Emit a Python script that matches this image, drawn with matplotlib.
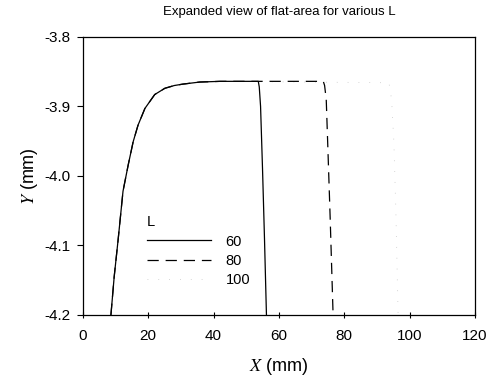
import matplotlib
matplotlib.use("Agg")
import matplotlib.pyplot as plt

plt.rcParams['font.family'] = ['Liberation Sans', 'DejaVu Sans']
plt.rcParams['mathtext.fontset'] = 'stix'

# shared rising edge
x_rise = [8.6, 9.6, 10.8, 12.3, 13.9, 15.4, 16.9, 19.0, 22.0, 25.1, 28.0, 30.6, 35.8, 42.0]
y_rise = [-4.200, -4.145, -4.092, -4.022, -3.984, -3.951, -3.927, -3.903, -3.883, -3.874, -3.870, -3.868, -3.865, -3.864]

# L = 60 (solid) falling edge
x60_fall = [53.7, 54.0, 54.4, 55.0, 55.6, 56.2]
y60_fall = [-3.864, -3.872, -3.900, -3.990, -4.090, -4.200]
# L = 80 (dashed) falling edge
x80_fall = [73.6, 74.0, 74.5, 75.0, 75.7, 76.6]
y80_fall = [-3.864, -3.870, -3.890, -3.960, -4.060, -4.200]
# L = 100 (faint dotted) falling edge
x100_fall = [93.7, 94.5, 95.2, 95.8, 96.5]
y100_fall = [-3.866, -3.890, -3.951, -4.049, -4.200]

x60, y60 = x_rise + x60_fall, y_rise + y60_fall
x80, y80 = x_rise + x80_fall, y_rise + y80_fall
x100, y100 = x_rise + x100_fall, y_rise + y100_fall

labels = ['60', '80', '100']
xticks = [0, 20, 40, 60, 80, 100, 120]
yticks = [-4.2, -4.1, -4.0, -3.9, -3.8]

fig = plt.figure(figsize=(5.02, 3.84), dpi=100)
ax = fig.add_axes([0.165, 0.18, 0.781, 0.724])

ax.plot(x100, y100, color='#c8c8c8', lw=0.6, linestyle=(0, (1, 12)), label=labels[2], zorder=1)
ax.plot(x80, y80, color='black', lw=0.9, linestyle=(0, (9, 5.5)), label=labels[1], zorder=2)
ax.plot(x60, y60, color='black', lw=0.9, linestyle='-', label=labels[0], zorder=3)

ax.set_xlim(0, 120)
ax.set_ylim(-4.2, -3.8)
ax.set_xticks(xticks)
ax.set_xticklabels([str(v) for v in xticks])
ax.set_yticks(yticks)
ax.set_yticklabels(['%.1f' % v for v in yticks])
ax.tick_params(axis='both', labelsize=11, length=4, width=0.8, direction='out', colors='black')
ax.tick_params(axis='x', direction='inout', length=5, pad=8)
ax.tick_params(axis='y', pad=5)
for s in ax.spines.values():
    s.set_linewidth(0.9)

ax.set_title('Expanded view of flat-area for various L', fontsize=9.5, pad=16)
ax.set_xlabel(r'$X$ (mm)', fontsize=13, labelpad=9)
ax.set_ylabel(r'$Y$ (mm)', fontsize=13, labelpad=3)

h, l = ax.get_legend_handles_labels()
order = [2, 1, 0]
leg = ax.legend([h[i] for i in order], [l[i] for i in order], title='L', frameon=False,
                loc='upper left', bbox_to_anchor=(0.13, 0.405), fontsize=10.5,
                title_fontsize=10.5, handlelength=4.4, labelspacing=0.35,
                handletextpad=1.0, alignment='left')

fig.savefig('out.png', dpi=100)
